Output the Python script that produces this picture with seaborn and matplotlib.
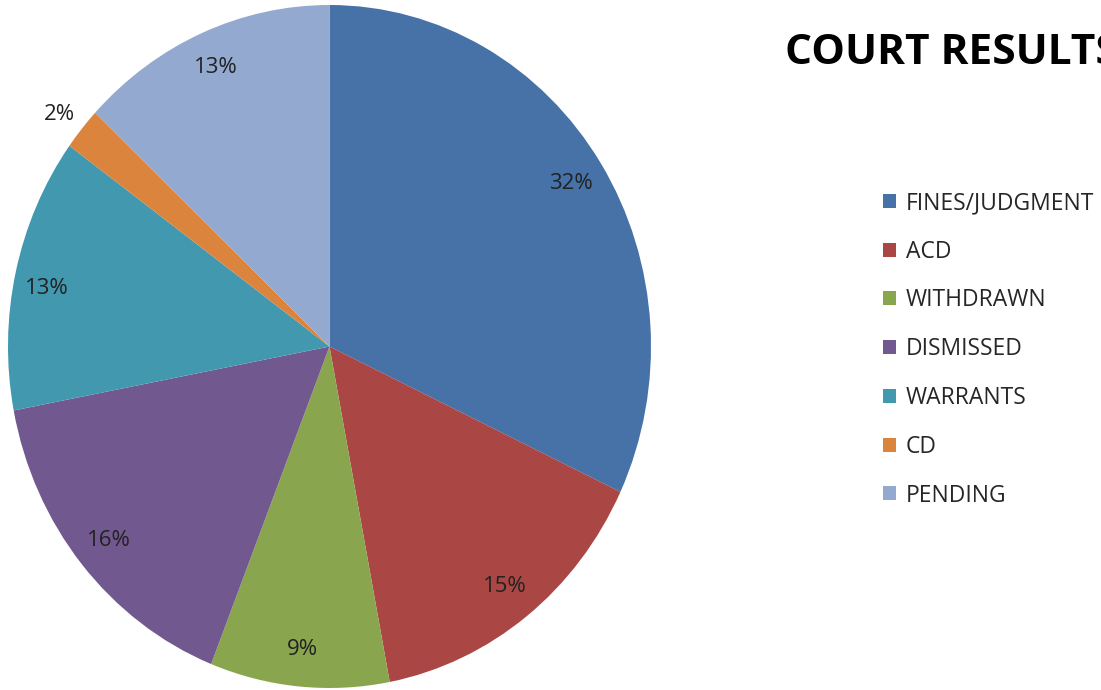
import matplotlib
matplotlib.use("Agg")
import matplotlib.pyplot as plt
import seaborn as sns

# Court results (share of cases, %)
categories = ["FINES/JUDGMENT", "ACD", "WITHDRAWN", "DISMISSED", "WARRANTS", "CD", "PENDING"]
shares = [32, 15, 9, 16, 13, 2, 13]
slice_colors = ["#4672A8", "#AA4744", "#89A54E", "#71588F", "#4198AF", "#DB843D", "#93A9CF"]

sns.set_theme(style="white")
plt.rcParams["font.family"] = ["Open Sans", "DejaVu Sans"]

fig = plt.figure(figsize=(11.01, 6.90), dpi=100)
ax = fig.add_axes([8 / 1101, 2 / 690, 643 / 1101, 683 / 690])

wedges, texts, autotexts = ax.pie(
    shares,
    colors=sns.color_palette(slice_colors),
    startangle=90,
    counterclock=False,
    autopct="%1.0f%%",
    pctdistance=0.89,
    wedgeprops=dict(linewidth=0),
    textprops=dict(fontsize=16, color="#222222"),
)
ax.set_aspect("auto")
ax.set_xlim(-1, 1)
ax.set_ylim(-1, 1)

# the small CD slice gets its label just outside the pie
autotexts[5].set_position((-0.84, 0.68))
autotexts[4].set_position((-0.88, 0.17))

# title runs off the right edge, as in the original slide
fig.text(785 / 1101, 1 - 64 / 690, "COURT RESULTS", fontsize=30.5, fontweight="bold",
         color="black", ha="left", va="baseline")

fig.legend(wedges, categories, loc="upper left", bbox_to_anchor=(883 / 1101, 1 - 191 / 690),
           frameon=False, fontsize=16.5, handlelength=0.55, handleheight=0.55,
           handletextpad=0.45, labelspacing=1.08, borderaxespad=0, borderpad=0)

fig.savefig("out.png", dpi=100)
